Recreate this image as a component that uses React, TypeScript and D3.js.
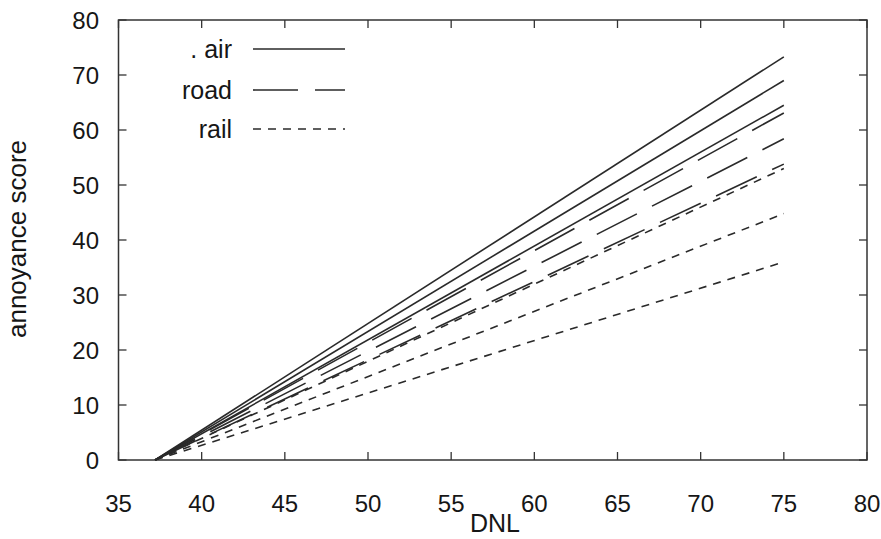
import React from 'react';
import * as d3 from 'd3';

const xTicks = [35, 40, 45, 50, 55, 60, 65, 70, 75, 80];
const yTicks = [0, 10, 20, 30, 40, 50, 60, 70, 80];
const dnl = [37.2, 75];
const air = [[0, 73.3], [0, 69.0], [0, 64.5]];
const road = [[0, 63.1], [0, 58.4], [0, 53.8]];
const rail = [[0, 53.0], [0, 44.8], [0, 36.0]];
const legendNames = ['. air', 'road', 'rail'];

const W = 881;
const H = 539;
const left = 118.5;
const right = 867;
const top = 20;
const bottom = 460;

const ink = '#161616';
const font = 'Liberation Sans, Arial, sans-serif';

const App = () => {
  const x = d3.scaleLinear().domain([35, 80]).range([left, right]);
  const y = d3.scaleLinear().domain([0, 80]).range([bottom, top]);
  const line = d3.line<[number, number]>()
    .x((d) => x(d[0]))
    .y((d) => y(d[1]));

  const groups = [
    { series: air, dash: null },
    { series: road, dash: '45,17' },
    { series: rail, dash: '8,7' },
  ];

  return (
    <svg width={W} height={H} style={{ position: 'absolute', left: 0, top: 0, background: '#fff' }}>
      <rect x={left} y={top} width={right - left} height={bottom - top} fill="none" stroke="#333" strokeWidth={1.5} />
      {xTicks.map((t) => (
        <g key={'x' + t}>
          <line x1={x(t)} x2={x(t)} y1={bottom} y2={bottom - 8} stroke="#333" strokeWidth={1.3} />
          <line x1={x(t)} x2={x(t)} y1={top} y2={top + 8} stroke="#333" strokeWidth={1.3} />
          <text x={x(t)} y={512} textAnchor="middle" fontFamily={font} fontSize={24} fill={ink}>{t}</text>
        </g>
      ))}
      {yTicks.map((t) => (
        <g key={'y' + t}>
          <line x1={left} x2={left + 8} y1={y(t)} y2={y(t)} stroke="#333" strokeWidth={1.3} />
          <line x1={right} x2={right - 8} y1={y(t)} y2={y(t)} stroke="#333" strokeWidth={1.3} />
          <text x={99} y={y(t)} dy="0.36em" textAnchor="end" fontFamily={font} fontSize={24} fill={ink}>{t}</text>
        </g>
      ))}
      <text x={495} y={532} textAnchor="middle" fontFamily={font} fontSize={25} fill={ink}>DNL</text>
      <text transform="translate(26,239) rotate(-90)" textAnchor="middle" fontFamily={font} fontSize={26} fill={ink}>annoyance score</text>

      {groups.map((g, gi) =>
        g.series.map((s, si) => (
          <path
            key={gi + '-' + si}
            d={line(dnl.map((v, i) => [v, s[i]] as [number, number])) || ''}
            fill="none"
            stroke="#2a2a2a"
            strokeWidth={1.6}
            strokeDasharray={g.dash || undefined}
          />
        ))
      )}

      {legendNames.map((name, i) => {
        const ly = [49, 90, 129][i];
        return (
          <g key={name}>
            <text x={232} y={ly} dy="0.36em" textAnchor="end" fontFamily={font} fontSize={25} fill={ink}>{name}</text>
            <line x1={253} x2={345} y1={ly} y2={ly} stroke="#2a2a2a" strokeWidth={1.6} strokeDasharray={groups[i].dash || undefined} />
          </g>
        );
      })}
    </svg>
  );
};

export default App;
